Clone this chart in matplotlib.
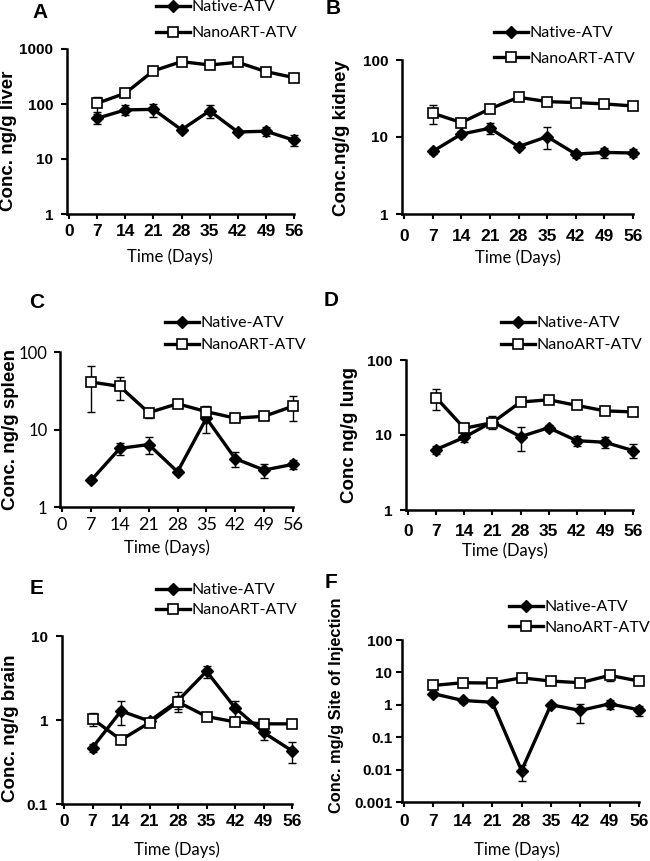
import matplotlib
matplotlib.use("Agg")
import matplotlib.pyplot as plt

W, H = 650, 861

days = [7, 14, 21, 28, 35, 42, 49, 56]

liver_native = [55, 78, 80, 34, 75, 31, 32, 22]
liver_native_err = [12, 16, 22, 3, 20, 3, 6, 5]
liver_nano = [103, 157, 400, 590, 512, 573, 388, 302]
liver_nano_err = [32, 10, 20, 25, 20, 25, 20, 15]

kidney_native = [6.5, 10.9, 13.0, 7.5, 10.1, 6.0, 6.3, 6.2]
kidney_native_err = [0.4, 1.0, 2.0, 0.5, 3.2, 0.6, 0.9, 0.7]
kidney_nano = [20.4, 15.4, 23.2, 32.8, 28.8, 28.0, 26.9, 25.3]
kidney_nano_err = [5.5, 1.5, 1, 1, 1, 1, 1, 1]

spleen_native = [2.2, 5.7, 6.4, 2.85, 14, 4.2, 3.0, 3.55]
spleen_native_err = [0.1, 1.0, 1.5, 0.2, 5, 0.9, 0.6, 0.5]
spleen_nano = [41, 36, 16.5, 21.5, 17, 14, 14.8, 20]
spleen_nano_err = [24, 12, 2.5, 1, 3, 1, 1, 7]

lung_native = [6.4, 9.3, 15, 9.5, 12.5, 8.4, 8.0, 6.2]
lung_native_err = [0.8, 1.3, 3, 3.4, 1.2, 1.2, 1.3, 1.3]
lung_nano = [31.5, 12.3, 14.6, 27.5, 29.5, 24.8, 21, 20.3]
lung_nano_err = [10, 1, 1, 1, 1, 1, 1, 1]

brain_native = [0.47, 1.28, 0.97, 1.7, 3.8, 1.4, 0.71, 0.43]
brain_native_err = [0.05, 0.4, 0.1, 0.45, 0.6, 0.3, 0.13, 0.12]
brain_nano = [1.03, 0.58, 0.93, 1.64, 1.1, 0.95, 0.9, 0.9]
brain_nano_err = [0.17, 0.03, 0.05, 0.3, 0.05, 0.05, 0.05, 0.05]

site_native = [2.2, 1.36, 1.2, 0.0093, 1.0, 0.67, 1.07, 0.7]
site_native_err = [0.3, 0.2, 0.1, 0.005, 0.15, 0.4, 0.35, 0.25]
site_nano = [3.96, 4.8, 4.7, 6.8, 5.4, 4.8, 8.1, 5.4]
site_nano_err = [0.3, 0.3, 0.3, 0.5, 0.3, 0.3, 2.6, 0.5]

ARIAL = "Liberation Sans"
CALIBRI = "Lato"


def fx(x):
    return x / W


def fy(y):
    return 1 - y / H


PANELS = [
    dict(letter="A", rect=(67, 294, 49, 214), ylabel="Conc. ng/g liver", ylabel_size=13.5,
         native=(liver_native, liver_native_err), nano=(liver_nano, liver_nano_err),
         yticks=[1, 10, 100, 1000], ylabels=["1", "10", "100", "1000"], bold_ticks=True,
         letter_xy=(40, 12), ylabel_xy=(9, 141), xlabel_xy=(170, 257),
         legend_xy=(156, 0), legend_sp=0.75, xpad=4, ypad=6),
    dict(letter="B", rect=(402, 633, 60, 214), ylabel="Conc.ng/g kidney", ylabel_size=13.5,
         native=(kidney_native, kidney_native_err), nano=(kidney_nano, kidney_nano_err),
         yticks=[1, 10, 100], ylabels=["1", "10", "100"], bold_ticks=True,
         letter_xy=(333, 9), ylabel_xy=(341, 138), xlabel_xy=(518, 258),
         legend_xy=(494, 26), legend_sp=0.72, xpad=7, ypad=6),
    dict(letter="C", rect=(60, 293, 352, 507), ylabel="Conc. ng/g spleen", ylabel_size=13.5,
         native=(spleen_native, spleen_native_err), nano=(spleen_nano, spleen_nano_err),
         yticks=[1, 10, 100], ylabels=["1", "10", "100"], bold_ticks=False,
         letter_xy=(37, 302), ylabel_xy=(11, 429), xlabel_xy=(167, 548),
         legend_xy=(165, 316), legend_sp=0.5, xpad=4, ypad=5),
    dict(letter="D", rect=(406, 633, 360, 510), ylabel="Conc ng/g lung", ylabel_size=13.5,
         native=(lung_native, lung_native_err), nano=(lung_nano, lung_nano_err),
         yticks=[1, 10, 100], ylabels=["1", "10", "100"], bold_ticks=True,
         letter_xy=(331, 300), ylabel_xy=(349, 435), xlabel_xy=(505, 551),
         legend_xy=(501, 316), legend_sp=0.5, xpad=6.5, ypad=6),
    dict(letter="E", rect=(62, 292, 636, 804), ylabel="Conc. ng/g brain", ylabel_size=13.5,
         native=(brain_native, brain_native_err), nano=(brain_nano, brain_nano_err),
         yticks=[0.1, 1, 10], ylabels=["0.1", "1", "10"], bold_ticks=True,
         letter_xy=(37, 589), ylabel_xy=(11, 728), xlabel_xy=(177, 850),
         legend_xy=(156, 583), legend_sp=0.38, xpad=4, ypad=6),
    dict(letter="F", rect=(402, 639, 640, 802), ylabel="Conc. mg/g Site of Injection",
         ylabel_size=11.8,
         native=(site_native, site_native_err), nano=(site_nano, site_nano_err),
         yticks=[0.001, 0.01, 0.1, 1, 10, 100],
         ylabels=["0.001", "0.01", "0.1", "1", "10", "100"], bold_ticks=True,
         letter_xy=(331, 582), ylabel_xy=(336, 705), xlabel_xy=(517, 850),
         legend_xy=(509, 600), legend_sp=0.42, xpad=5, ypad=3),
]

fig = plt.figure(figsize=(W / 100, H / 100), dpi=100)

for p in PANELS:
    left, right, top, bottom = p["rect"]
    ax = fig.add_axes([fx(left), fy(bottom), fx(right - left), (bottom - top) / H])
    ax.set_yscale("log")

    nat, nat_err = p["native"]
    nano, nano_err = p["nano"]
    ax.errorbar(days, nat, yerr=nat_err, fmt="none", ecolor="black",
                elinewidth=1.0, capsize=3, capthick=1.0, zorder=2, clip_on=False)
    ax.errorbar(days, nano, yerr=nano_err, fmt="none", ecolor="black",
                elinewidth=1.0, capsize=3, capthick=1.0, zorder=3, clip_on=False)
    ax.plot(days, nat, color="black", lw=2.4, marker="D", ms=6.5,
            mfc="black", mec="black", label="Native-ATV", zorder=4, clip_on=False)
    ax.plot(days, nano, color="black", lw=2.4, marker="s", ms=7.5,
            mfc="white", mec="black", mew=1.2, label="NanoART-ATV", zorder=5,
            clip_on=False)

    ax.set_xlim(-0.5, 56)
    ax.set_ylim(p["yticks"][0], p["yticks"][-1])
    if p["bold_ticks"]:
        tick_kw = dict(fontweight="bold", family=ARIAL)
        xsize, ysize = 12.5, 11
    else:
        tick_kw = dict(fontweight="normal", family=CALIBRI)
        xsize, ysize = 13, 12
    ax.set_xticks([0, 7, 14, 21, 28, 35, 42, 49, 56])
    ax.set_xticklabels([str(d) for d in range(0, 57, 7)], fontsize=xsize, **tick_kw)
    ax.set_yticks(p["yticks"])
    ax.set_yticklabels(p["ylabels"], fontsize=ysize, **tick_kw)
    ax.minorticks_off()
    ax.tick_params(axis="x", direction="out", length=3.5, width=1.5, pad=p["xpad"])
    ax.tick_params(axis="y", direction="out", length=4, width=1.5, pad=p["ypad"])

    for side in ("top", "right"):
        ax.spines[side].set_visible(False)
    for side in ("left", "bottom"):
        ax.spines[side].set_linewidth(1.8)

    ax.set_xlabel("Time (Days)", fontsize=12, family=CALIBRI)
    ax.xaxis.set_label_coords(fx(p["xlabel_xy"][0]), fy(p["xlabel_xy"][1]),
                              transform=fig.transFigure)
    ax.xaxis.label.set(va="center", ha="center")

    ax.set_ylabel(p["ylabel"], fontsize=p["ylabel_size"], fontweight="bold", family=ARIAL,
                  va="center", ha="center", rotation_mode="anchor")
    ax.yaxis.set_label_coords(fx(p["ylabel_xy"][0]), fy(p["ylabel_xy"][1]),
                              transform=fig.transFigure)

    fig.text(fx(p["letter_xy"][0]), fy(p["letter_xy"][1]), p["letter"],
             fontsize=15, fontweight="bold", family=ARIAL, ha="center", va="center")

    ax.legend(loc="upper left", bbox_to_anchor=(fx(p["legend_xy"][0]), fy(p["legend_xy"][1])),
              bbox_transform=fig.transFigure, frameon=False, borderpad=0,
              borderaxespad=0, handlelength=2.1, handletextpad=0.1,
              labelspacing=p["legend_sp"], prop={"family": CALIBRI, "size": 11.5})

fig.savefig("out.png", dpi=100)
